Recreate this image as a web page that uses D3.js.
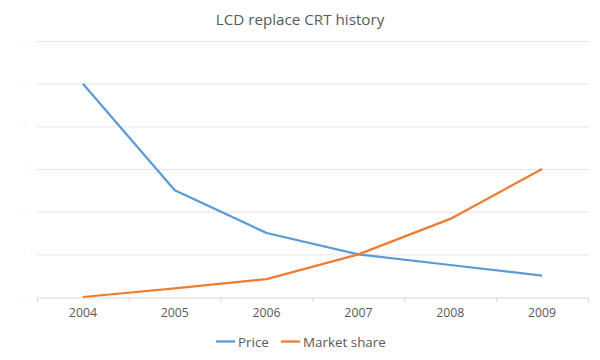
<!DOCTYPE html>
<html><head><meta charset="utf-8">
<script src="https://cdn.jsdelivr.net/npm/d3@7"></script>
<style>body{margin:0;background:#fff}svg{display:block}</style>
</head><body>
<svg id="c" width="600" height="360"></svg>
<script>
const categories = ["2004","2005","2006","2007","2008","2009"];
const priceValues = [5, 2.5, 1.5, 1.0, 0.75, 0.5];
const shareValues = [0, 0.2, 0.42, 1.0, 1.83, 3.0];
const yTicks = [0,1,2,3,4,5,6];
const seriesNames = ["Price","Market share"];
const colors = ["#5B9BD5","#ED7D31"];

const svg = d3.select("#c");
const x = d3.scaleBand().domain(categories).range([37, 588]);
const y = d3.scaleLinear().domain([0,6]).range([297, 41]);
const font = "Open Sans, Lato, sans-serif";

svg.append("text").attr("x", 300).attr("y", 25).attr("text-anchor","middle")
  .attr("font-family", font).attr("font-size", 15.2).attr("fill","#595959")
  .text("LCD replace CRT history");

// gridlines
svg.append("g").selectAll("line").data(yTicks.slice(1)).join("line")
  .attr("x1", 37).attr("x2", 588).attr("y1", d=>y(d)+0.5).attr("y2", d=>y(d)+0.5)
  .attr("stroke","#e4e4e4").attr("stroke-width",1);

// y labels (nearly invisible in reference)
svg.append("g").selectAll("text").data(yTicks).join("text")
  .attr("x", 28).attr("y", d=>y(d)+4).attr("text-anchor","end")
  .attr("font-family", font).attr("font-size", 11).attr("fill","#fbfbfb")
  .text(d=>d);

// x axis
const xAxis = d3.axisBottom(x).tickSize(0).tickPadding(11);
const gx = svg.append("g").attr("transform", `translate(0,${y(0)+0.5})`).call(xAxis);
gx.select(".domain").attr("stroke","#d9d9d9");
gx.selectAll("text").attr("font-family", font).attr("font-size", 12.3).attr("fill","#595959");
// tick marks between categories
const bounds = categories.map(c=>x(c)).concat([x.range()[1]]);
gx.selectAll(".sep").data(bounds).join("line").attr("class","sep")
  .attr("x1", d=>d+0.5).attr("x2", d=>d+0.5).attr("y1",0).attr("y2",5)
  .attr("stroke","#d9d9d9");

const line = d3.line().x((d,i)=>x(categories[i])+x.bandwidth()/2).y(d=>y(d));
[priceValues, shareValues].forEach((vals,i)=>{
  svg.append("path").datum(vals).attr("d", line).attr("fill","none")
    .attr("stroke", colors[i]).attr("stroke-width", 2.25).attr("stroke-linejoin","round");
});

// legend
const legend = svg.append("g").attr("font-family", font).attr("font-size", 13.4).attr("fill","#595959");
const lx = [216, 281];
seriesNames.forEach((n,i)=>{
  legend.append("line").attr("x1", lx[i]).attr("x2", lx[i]+19).attr("y1",341.5).attr("y2",341.5)
    .attr("stroke", colors[i]).attr("stroke-width",2.25);
  legend.append("text").attr("x", lx[i]+22).attr("y", 346.5).text(n);
});
</script>
</body></html>
